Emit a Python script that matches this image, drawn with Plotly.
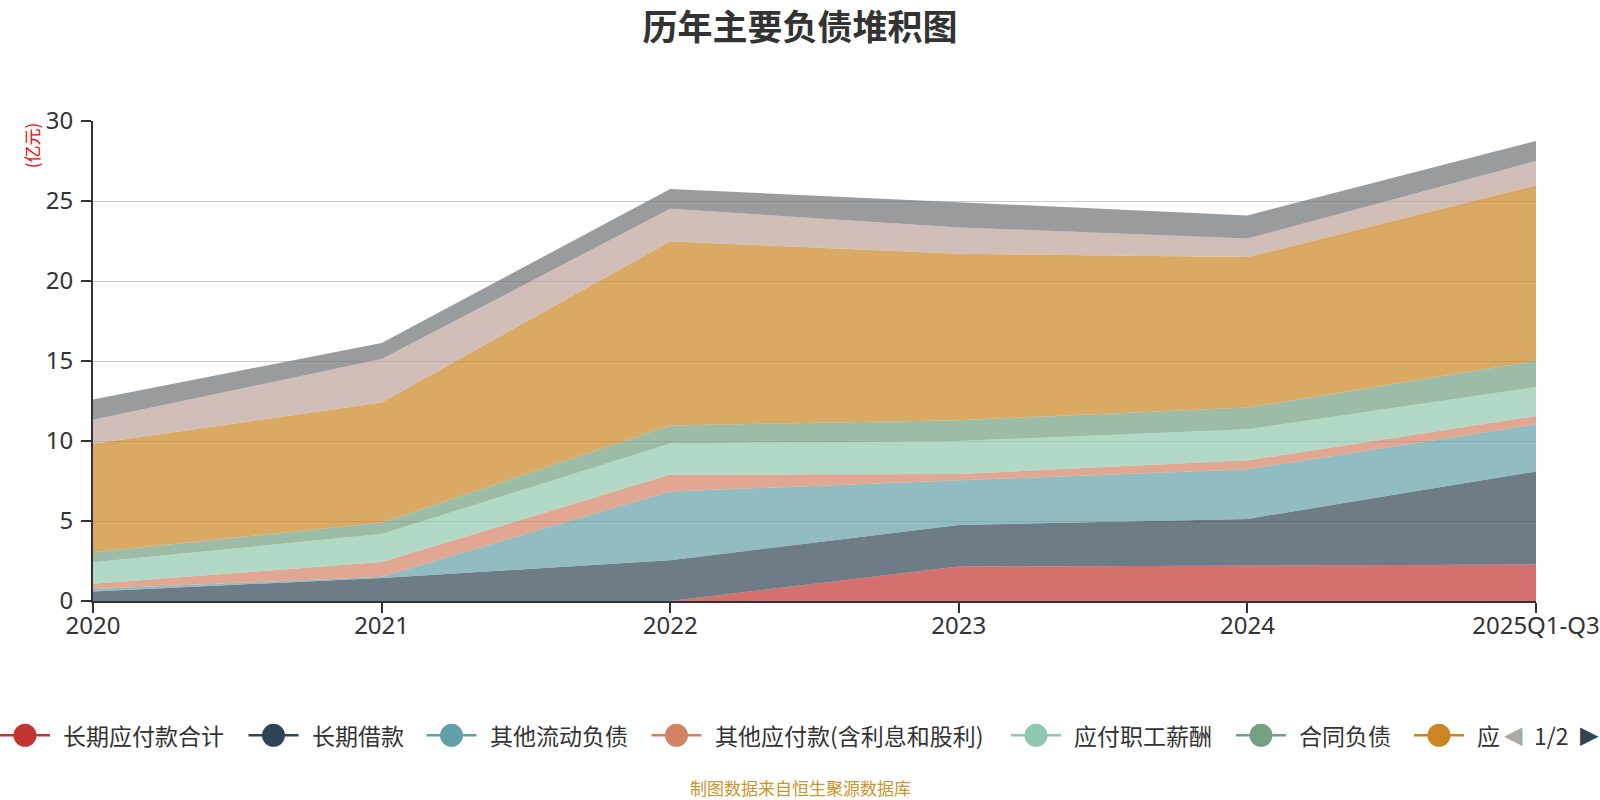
import plotly.graph_objects as go

# ---------------- data ----------------
categories = ["2020", "2021", "2022", "2023", "2024", "2025Q1-Q3"]

series_names = [
    "长期应付款合计", "长期借款", "其他流动负债", "其他应付款(含利息和股利)",
    "应付职工薪酬", "合同负债", "应付账款", "应付票据", "短期借款",
]

long_term_payables = [0, 0, 0, 2.15, 2.23, 2.29]
long_term_loans = [0.6, 1.44, 2.55, 2.6, 2.9, 5.81]
other_current_liab = [0.15, 0.08, 4.3, 2.81, 3.1, 2.94]
other_payables = [0.33, 0.91, 1.05, 0.38, 0.56, 0.52]
staff_payables = [1.34, 1.75, 1.95, 2.06, 1.94, 1.82]
contract_liab = [0.62, 0.72, 1.12, 1.3, 1.36, 1.62]
accounts_payable = [6.79, 7.51, 11.51, 10.4, 9.41, 10.98]
notes_payable = [1.5, 2.71, 2.04, 1.65, 1.15, 1.52]
short_term_loans = [1.27, 1.0, 1.23, 1.57, 1.45, 1.25]

series_values = [
    long_term_payables, long_term_loans, other_current_liab, other_payables,
    staff_payables, contract_liab, accounts_payable, notes_payable, short_term_loans,
]

colors = ["#c23531", "#2f4554", "#61a0a8", "#d48265", "#91c7ae",
          "#749f83", "#ca8622", "#bda29a", "#6e7074"]

y_ticks = [0, 5, 10, 15, 20, 25, 30]

# legend page 1 shows 7 entries; the last one is cut off by the pager
legend_page_labels = ["长期应付款合计", "长期借款", "其他流动负债", "其他应付款(含利息和股利)",
                      "应付职工薪酬", "合同负债", "应"]

# ---------------- layout geometry ----------------
W, H = 1600, 800
L, R, T, B = 93, 64, 120.7, 199.3
PW, PH = W - L - R, H - T - B


def px2x(px):
    return (px - L) / PW


def py2y(py):
    return (H - B - py) / PH


def rgba(hex_color, a):
    h = hex_color.lstrip("#")
    r, g, b = int(h[0:2], 16), int(h[2:4], 16), int(h[4:6], 16)
    return f"rgba({r},{g},{b},{a})"


FONT = "Noto Sans CJK SC"

fig = go.Figure()
for name, vals, col in zip(series_names, series_values, colors):
    fig.add_trace(go.Scatter(
        x=categories, y=vals, name=name, mode="lines",
        stackgroup="one", line=dict(width=0, color=col),
        fillcolor=rgba(col, 0.7), showlegend=False,
        hovertemplate="%{x}<br>" + name + ": %{y}<extra></extra>",
    ))

# ---------------- custom paged legend (page 1 of 2) ----------------
shapes = []
annotations = []
leg_y = 735
x = 0.0
for i, label in enumerate(legend_page_labels):
    col = colors[i]
    shapes.append(dict(type="line", xref="paper", yref="paper",
                       x0=px2x(x), x1=px2x(x + 50), y0=py2y(leg_y), y1=py2y(leg_y),
                       line=dict(color=col, width=2.5)))
    shapes.append(dict(type="circle", xref="paper", yref="paper",
                       x0=px2x(x + 25 - 11.5), x1=px2x(x + 25 + 11.5),
                       y0=py2y(leg_y + 11.5), y1=py2y(leg_y - 11.5),
                       fillcolor=col, line=dict(color=col, width=0)))
    annotations.append(dict(text=label, xref="paper", yref="paper",
                            x=px2x(x + 61), y=py2y(leg_y), xanchor="left", yanchor="middle",
                            showarrow=False, font=dict(family=FONT, size=23, color="#333")))
    n_cjk = sum(1 for c in label if ord(c) > 127)
    n_other = len(label) - n_cjk
    x = x + 62 + n_cjk * 23.5 + n_other * 8.5 + 22

annotations.append(dict(text="◀", xref="paper", yref="paper", x=px2x(1513), y=py2y(leg_y),
                        xanchor="center", yanchor="middle", showarrow=False,
                        font=dict(family="DejaVu Sans", size=24, color="#aaaaaa")))
annotations.append(dict(text="1/2", xref="paper", yref="paper", x=px2x(1551), y=py2y(leg_y),
                        xanchor="center", yanchor="middle", showarrow=False,
                        font=dict(family=FONT, size=23, color="#333")))
annotations.append(dict(text="▶", xref="paper", yref="paper", x=px2x(1590), y=py2y(leg_y),
                        xanchor="center", yanchor="middle", showarrow=False,
                        font=dict(family="DejaVu Sans", size=24, color="#2f4554")))

# y-axis unit label
annotations.append(dict(text="(亿元)", xref="paper", yref="paper", x=px2x(31), y=py2y(145),
                        xanchor="center", yanchor="middle", textangle=-90, showarrow=False,
                        font=dict(family=FONT, size=17, color="#ff0000")))
# source note
annotations.append(dict(text="制图数据来自恒生聚源数据库", xref="paper", yref="paper",
                        x=px2x(800), y=py2y(787), xanchor="center", yanchor="middle",
                        showarrow=False, font=dict(family=FONT, size=17, color="#c9952e")))

fig.update_layout(
    width=W, height=H,
    margin=dict(l=L, r=R, t=T, b=B, pad=0, autoexpand=False),
    paper_bgcolor="white", plot_bgcolor="white",
    title=dict(text="历年主要负债堆积图", x=0.5, xanchor="center",
               y=1 - 28 / H, yanchor="middle",
               font=dict(family=FONT, size=35, color="#333", weight="bold")),
    showlegend=False,
    shapes=shapes, annotations=annotations,
    xaxis=dict(type="category", range=[0, len(categories) - 1], automargin=False,
               showgrid=False, showline=True, linecolor="#333", linewidth=2,
               ticks="outside", ticklen=10, tickwidth=2, tickcolor="#333",
               ticklabelstandoff=-8,
               tickfont=dict(family="Noto Sans", size=24, color="#333")),
    yaxis=dict(range=[0, 30], tickvals=y_ticks, automargin=False,
               showgrid=True, gridcolor="#cccccc",
               gridwidth=1, zeroline=False, showline=True, linecolor="#333", linewidth=2,
               ticks="outside", ticklen=10, tickwidth=2, tickcolor="#333",
               ticklabelstandoff=3,
               tickfont=dict(family="Noto Sans", size=24, color="#333")),
)

fig.write_html("out.html")
